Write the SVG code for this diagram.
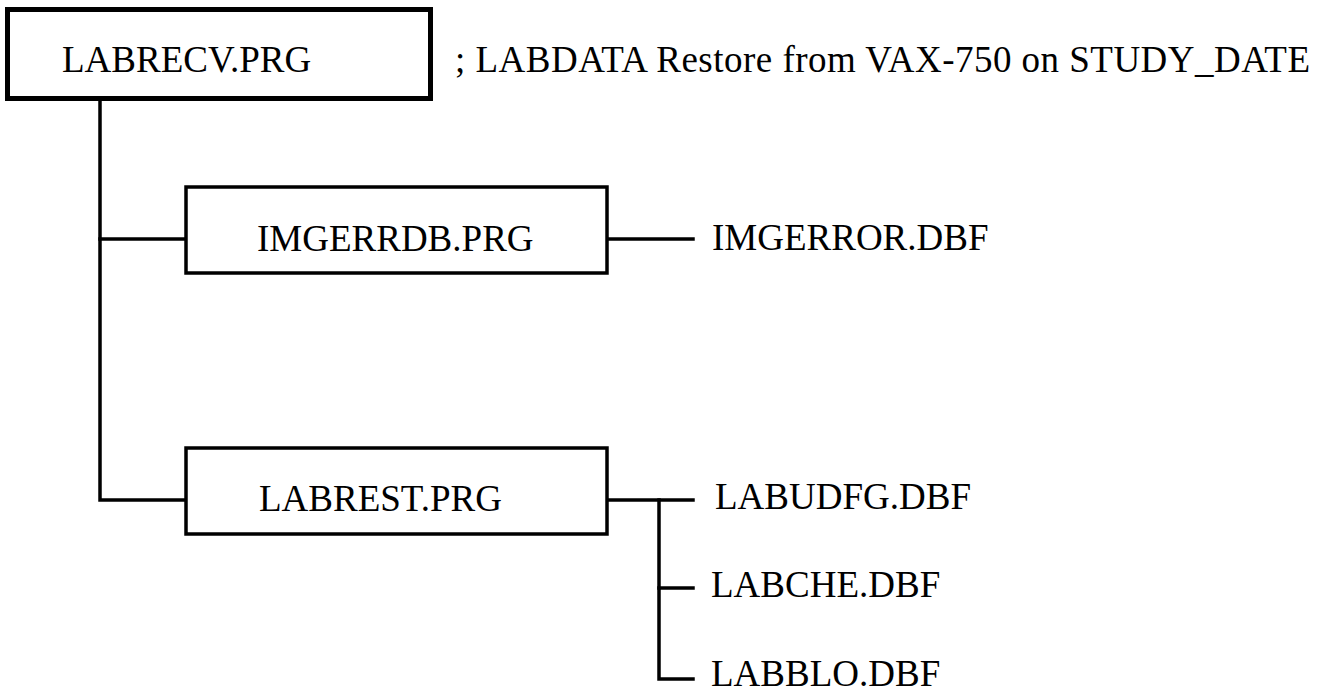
<svg xmlns="http://www.w3.org/2000/svg" width="1326" height="692" viewBox="0 0 1326 692">
<style>
  .t { font-family: "Liberation Serif", "Times New Roman", serif; font-size: 37px; fill: #000; }
  .box { fill: #fff; stroke: #000; stroke-width: 3.5; }
  .main { fill: #fff; stroke: #000; stroke-width: 5; }
  .ln { stroke: #000; stroke-width: 3.5; fill: none; stroke-linecap: square; }
</style>
<rect width="1326" height="692" fill="#fff"/>
<g id="connectors">
  <path class="ln" d="M100,100 V500 H186"/>
  <path class="ln" d="M100,239 H186"/>
  <path class="ln" d="M607,239 H693"/>
  <path class="ln" d="M607,500 H693"/>
  <path class="ln" d="M659,500 V679 H693"/>
  <path class="ln" d="M659,588 H693"/>
</g>
<g id="labrecv">
  <rect class="main" x="7.5" y="9.5" width="423" height="89"/>
  <text class="t" x="62" y="72">LABRECV.PRG</text>
</g>
<g id="comment">
  <text class="t" x="455" y="72" textLength="855">; LABDATA Restore from VAX-750 on STUDY_DATE</text>
</g>
<g id="imgerrdb">
  <rect class="box" x="186" y="187" width="421" height="86"/>
  <text class="t" x="257" y="251">IMGERRDB.PRG</text>
</g>
<g id="imgerror">
  <text class="t" x="712" y="250">IMGERROR.DBF</text>
</g>
<g id="labrest">
  <rect class="box" x="186" y="448" width="421" height="86"/>
  <text class="t" x="259" y="511">LABREST.PRG</text>
</g>
<g id="labudfg">
  <text class="t" x="715" y="509">LABUDFG.DBF</text>
</g>
<g id="labche">
  <text class="t" x="711" y="597">LABCHE.DBF</text>
</g>
<g id="labblo">
  <text class="t" x="711" y="686">LABBLO.DBF</text>
</g>
</svg>
